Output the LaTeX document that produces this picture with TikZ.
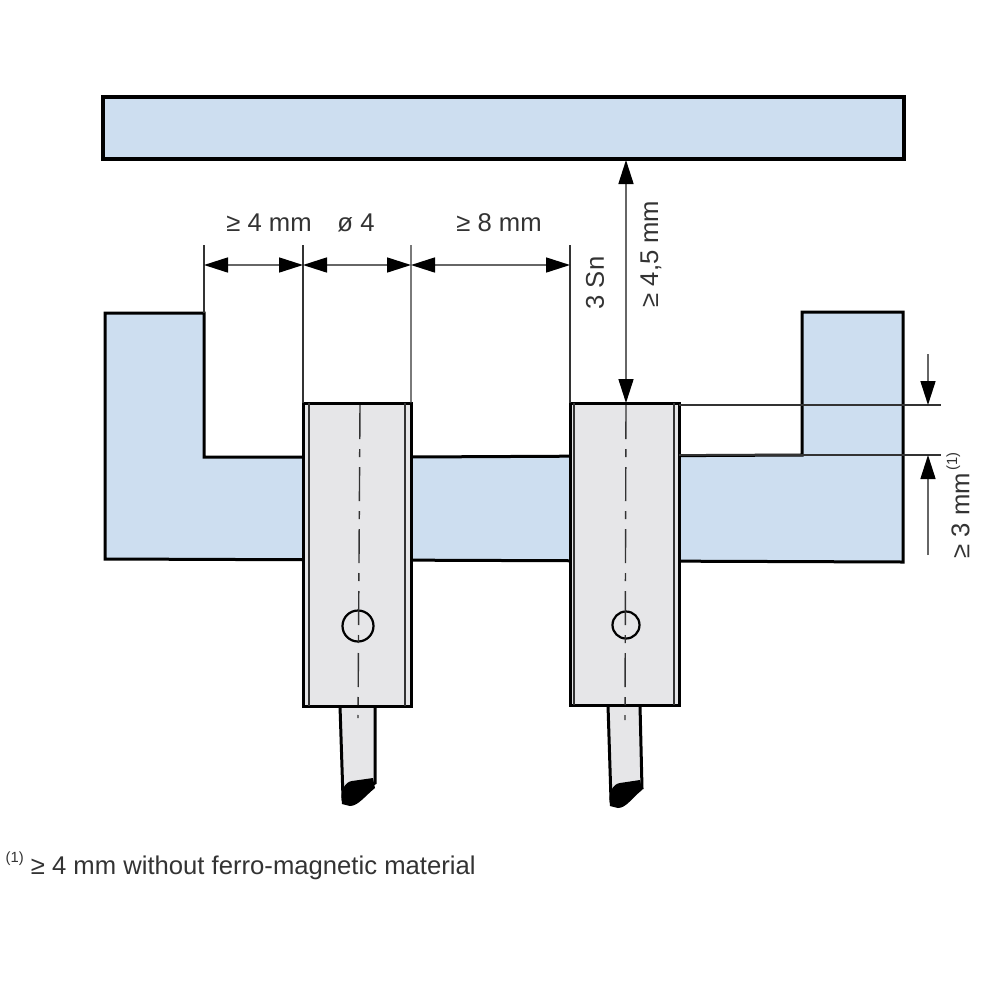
\documentclass[tikz,border=0pt]{standalone}
\usepackage{fontspec}
\setmainfont{Liberation Sans}
\usepackage{xcolor}
\definecolor{mybase}{RGB}{205,222,240}
\definecolor{mysensor}{RGB}{230,230,232}
\usetikzlibrary{arrows.meta}

\begin{document}
\begin{tikzpicture}[x=.1mm,y=-.1mm,line cap=butt,>={Triangle[length=2.4mm,width=1.5mm,color=black,fill=black]}]
	\tikzstyle{plate}=[draw=black,fill=mybase,line width=.3mm,line join=miter];
	\tikzstyle{sensor}=[draw=black,fill=mysensor,line width=.3mm];
	\tikzstyle{thin}=[draw=black!80,line width=.13mm];
	\tikzstyle{dim}=[draw=black!60,line width=.16mm];
	\tikzstyle{axis}=[draw=black!80,line width=.14mm,dash pattern=on 3.4mm off 1mm on .8mm off 1mm];
	\tikzstyle{lab}=[font=\fontsize{7.3pt}{8.5pt}\selectfont,text=black!80,inner sep=0pt];
	\path[use as bounding box] (0,0) rectangle (1000,1000);
	% target and mounting plate
	\draw[plate,line width=.42mm] (103,97) rectangle (904,159);
	\draw[plate] (105,313) -- (204,313) -- (204,457) -- (411,457) -- (802,455) -- (802,312)
		-- (903,312) -- (903,562) -- (105,559) -- cycle;
	% cables
	\draw[sensor] (340,706) -- (343,798) -- (375,783) -- (375,706) -- cycle;
	\draw[sensor] (608,705) -- (611,800) -- (642,788) -- (640,705) -- cycle;
	\fill[black] (342,804) .. controls (340,790) and (345,782) .. (352,781)
		-- (373,778) -- (375,788) .. controls (365,796) and (358,806) .. (350,806) -- cycle;
	\fill[black] (610,806) .. controls (608,792) and (613,784) .. (620,783)
		-- (640,780) -- (642,790) .. controls (632,798) and (626,808) .. (618,808) -- cycle;
	% sensors
	\node[sensor,outer sep=0pt,minimum width=10.8mm,minimum height=30.3mm,inner sep=0pt,anchor=north west] (s1) at (303,403) {};
	\node[sensor,outer sep=0pt,minimum width=10.9mm,minimum height=30.2mm,inner sep=0pt,anchor=north west] (s2) at (570,403) {};
	\draw[thin] ([xshift=.6mm]s1.north west) -- ([xshift=.6mm]s1.south west);
	\draw[thin] ([xshift=-.6mm]s1.north east) -- ([xshift=-.6mm]s1.south east);
	\draw[thin] ([xshift=.4mm]s2.north west) -- ([xshift=.4mm]s2.south west);
	\draw[thin] ([xshift=-.5mm]s2.north east) -- ([xshift=-.5mm]s2.south east);
	\node[draw=black,line width=.22mm,circle,minimum size=3.1mm,inner sep=0pt] (c1) at (358,626) {};
	\node[draw=black,line width=.22mm,circle,minimum size=2.7mm,inner sep=0pt] (c2) at (626,625) {};
	\coordinate (a1) at (360,405);
	\coordinate (b1) at (358,718);
	\coordinate (a2) at (626,405);
	\coordinate (b2) at (625,720);
	\draw[axis] (a1) -- (b1);
	\draw[axis] (a2) -- (b2);
	% extension lines
	\coordinate (e1) at (204,245);
	\coordinate (e2) at (303,245);
	\coordinate (e3) at (411,245);
	\coordinate (e4) at (570,245);
	\draw[thin] (e1) -- (204,313);
	\draw[thin] (e2) -- (s1.north west);
	\draw[thin] (e3) -- (s1.north east);
	\draw[thin] (e4) -- (s2.north west);
	\coordinate (f1) at (941,405);
	\coordinate (f2) at (941,455);
	\draw[thin] (s2.north east |- f1) -- (f1);
	\draw[thin] (679,455) -- (f2);
	% dimensions
	\coordinate (d1) at (204,265);
	\coordinate (d2) at (303,265);
	\coordinate (d3) at (411,265);
	\coordinate (d4) at (570,265);
	\draw[dim,<->] (d1) -- (d2);
	\draw[dim,<->] (d2) -- (d3);
	\draw[dim,<->] (d3) -- (d4);
	\coordinate (g1) at (626,160);
	\coordinate (g2) at (626,403);
	\draw[dim,<->] (g1) -- (g2);
	\coordinate (h1) at (928,354);
	\coordinate (h2) at (928,405);
	\coordinate (h3) at (928,455);
	\coordinate (h4) at (928,555);
	\draw[dim,->] (h1) -- (h2);
	\draw[dim,->] (h4) -- (h3);
	% labels
	\node[lab] (t1) at (269,223) {≥ 4 mm};
	\node[lab] (t2) at (356,223) {ø 4};
	\node[lab] (t3) at (499,223) {≥ 8 mm};
	\node[lab,rotate=90] (t4) at (595,283) {3 Sn};
	\node[lab,rotate=90] (t5) at (651,254) {≥ 4,5 mm};
	\node[lab,rotate=90,anchor=west] (t6) at (958,559) {≥ 3 mm\raisebox{.9ex}{\fontsize{4.2pt}{5pt}\selectfont\,(1)}};
	\node[lab,anchor=west] (t7) at (5,866) {\raisebox{.9ex}{\fontsize{4.2pt}{5pt}\selectfont (1)} ≥ 4 mm without ferro-magnetic material};
\end{tikzpicture}
\end{document}
